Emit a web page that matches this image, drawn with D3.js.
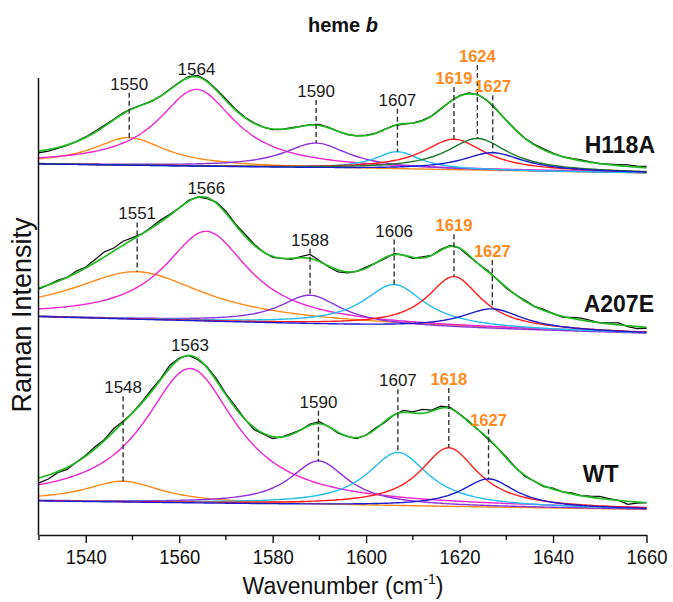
<!DOCTYPE html>
<html>
<head>
<meta charset="utf-8">
<script src="https://cdn.jsdelivr.net/npm/d3@7/dist/d3.min.js"></script>
<style>
  body { margin: 0; background: #fff; }
  text { font-family: "Liberation Sans", Arial, sans-serif; }
</style>
</head>
<body>
<div id="chart"></div>
<script>
(function(d3) {
  'use strict';

  // ---- data (intensity in arbitrary units, stacked offsets included) ----
  var xTicks = [1540, 1560, 1580, 1600, 1620, 1640, 1660];
  var xMinor = [1530, 1550, 1570, 1590, 1610, 1630, 1650];
  var measuredGrid = d3.range(1530, 1661, 2);

  var h118aBands = ['orange', 'magenta', 'violet', 'cyan', 'red', 'dkgreen', 'blue'];
  var h118aCenters = [1549.3, 1563.7, 1589.3, 1606.7, 1618.8, 1623.8, 1627.1];
  var h118aHeights = [27.7, 77, 25, 17.6, 31, 32, 18];
  var h118aWidths = [9.4, 10, 8.5, 6, 8, 8, 8];
  var h118aLabels = ['1550', '1564', '1590', '1607', '1619', '1624', '1627'];
  var h118aVinyl = [false, false, false, false, true, true, true];
  var h118aBaseline = [369.5, 360.5];
  var h118aResidual = [-1.5, -1.5, -1, -0.5, 0, 0.5, 1, 1, 0.5, 1, 0.5, 0, -0.5, 0, 0.5, 0.5,
    1, 1.5, 1, 1, 1.5, 1, 0.5, 0.5, 0, -0.5, 0, 0.5, 0, 0.5, 1, 0.5, 0, -0.5, 0, 0.5, 0, 0.5,
    0, -0.5, 0, 0.5, 0, 0.5, 0, 0.5, 1, 0.5, 0, -0.5, 0, 0.5, 0, 0.5, 1, 0.5, 0, 0.5, 1, 0.5,
    0, 0.5, 1, 1.5, 1, 1.5];

  var a207eBands = ['orange', 'magenta', 'violet', 'cyan', 'red', 'blue'];
  var a207eCenters = [1551, 1565.8, 1588, 1606, 1618.8, 1627];
  var a207eHeights = [47.7, 90, 29, 42, 51.6, 20.4];
  var a207eWidths = [17.5, 11, 8, 8, 7, 8];
  var a207eLabels = ['1551', '1566', '1588', '1606', '1619', '1627'];
  var a207eVinyl = [false, false, false, false, true, true];
  var a207eBaseline = [216.8, 200];
  var a207eResidual = [-1, 0, 1, 0, 2, 1, 3, 5, 3, 4, 2, 0, 1, 2, 1, 0, 1, 0, -1, 1, 2, 1, 2, 1,
    0, -1, 0, -1, 1, 4, 1, -1, -2, -1, 0, 1, 0, -1, 1, 0, -1, 1, 0, 1, 1, 0, -1, 0, 1, 0, -1, 0,
    1, 0, 1, 0, -1, 1, 2, 1, 0, 1, 2, -1, -2, -1];

  var wtBands = ['orange', 'magenta', 'violet', 'cyan', 'red', 'blue'];
  var wtCenters = [1548, 1562.3, 1589.8, 1606.8, 1617.7, 1626.2];
  var wtHeights = [21, 134.6, 44, 53.6, 59, 28.4];
  var wtWidths = [10, 12, 7.5, 8, 7.5, 7];
  var wtLabels = ['1548', '1563', '1590', '1607', '1618', '1627'];
  var wtVinyl = [false, false, false, false, true, true];
  var wtBaseline = [32.5, 24];
  var wtResidual = [-5, -4, -1, -2, 0, 1, 2, 1, 3, 1, 0, 1, 2, 1, 3, 1, 0, -1, 1, 2, 1, 2, 0, -2,
    -1, -2, 0, 1, 0, 1, 2, 0, -1, 0, -1, 0, 1, -1, 0, 2, 1, 4, 1, 2, 1, 0, 1, 0, -1, 0, 1, 0, -1,
    0, -1, 1, 0, 1, 0, 1, 2, 1, 0, -3, -1, 0];

  // ---- layout ----
  var width = 673;
  var height = 602;
  var left = 39, right = 646.5, top = 78, bottom = 535;

  var bandColor = {
    orange: '#ff8a1c', magenta: '#f024d2', violet: '#8a32dc', cyan: '#22bdec',
    red: '#ff1c1c', dkgreen: '#1d7a2c', blue: '#1c1cd0'
  };

  var panels = [
    { name: 'H118A', bands: h118aBands, centers: h118aCenters, heights: h118aHeights,
      widths: h118aWidths, labels: h118aLabels, vinyl: h118aVinyl, baseline: h118aBaseline,
      residual: h118aResidual, lift: [26.7, 8, 34, 25, 21, 39, 19.4], nameX: 655, nameY: 152.7 },
    { name: 'A207E', bands: a207eBands, centers: a207eCenters, heights: a207eHeights,
      widths: a207eWidths, labels: a207eLabels, vinyl: a207eVinyl, baseline: a207eBaseline,
      residual: a207eResidual, lift: [23.3, 9, 18.7, 24, 21, 24], nameX: 654, nameY: 311.7 },
    { name: 'WT', bands: wtBands, centers: wtCenters, heights: wtHeights,
      widths: wtWidths, labels: wtLabels, vinyl: wtVinyl, baseline: wtBaseline,
      residual: wtResidual, lift: [35, 10, 21.7, 33, 29, 18.4], nameX: 618.5, nameY: 481.7 }
  ];

  var x = d3.scaleLinear().domain([1530, 1660]).range([left, right]);
  var y = d3.scaleLinear().domain([-1.5, 455]).range([bottom, 78.5]);

  var svg = d3.select('#chart')
    .append('svg')
    .attr('width', width)
    .attr('height', height);

  var line = d3.line()
    .x(function(d) { return x(d[0]); })
    .y(function(d) { return y(d[1]); });

  function lorentz(v, c, h, w) {
    var t = (v - c) / w;
    return h / (1 + t * t);
  }

  var fine = d3.range(1530, 1660.01, 0.5);

  panels.forEach(function(p) {
    var base = d3.scaleLinear().domain([1530, 1660]).range(p.baseline);
    var fit = function(v) {
      var s = base(v);
      p.centers.forEach(function(c, i) { s += lorentz(v, c, p.heights[i], p.widths[i]); });
      return s;
    };
    var g = svg.append('g').attr('class', 'panel');

    // components
    p.centers.forEach(function(c, i) {
      g.append('path')
        .attr('d', line(fine.map(function(v) {
          return [v, base(v) + lorentz(v, c, p.heights[i], p.widths[i])];
        })))
        .attr('fill', 'none')
        .attr('stroke', bandColor[p.bands[i]])
        .attr('stroke-width', 1.4);
    });

    // measured spectrum
    g.append('path')
      .attr('d', line(measuredGrid.map(function(v, i) { return [v, fit(v) + p.residual[i]]; })))
      .attr('fill', 'none')
      .attr('stroke', '#111')
      .attr('stroke-width', 1.3);

    // fitted envelope
    g.append('path')
      .attr('d', line(fine.map(function(v) { return [v, fit(v)]; })))
      .attr('fill', 'none')
      .attr('stroke', '#1fbb1f')
      .attr('stroke-width', 1.7);

    // band markers
    p.centers.forEach(function(c, i) {
      var cy = y(fit(c)) - p.lift[i];
      if (i !== 1) {
        g.append('line')
          .attr('x1', x(c)).attr('x2', x(c))
          .attr('y1', cy + 9)
          .attr('y2', y(base(c) + p.heights[i]))
          .attr('stroke', '#333')
          .attr('stroke-width', 1.4)
          .attr('stroke-dasharray', '5,3');
      }
      g.append('text')
        .attr('x', x(c))
        .attr('y', cy + 6)
        .attr('text-anchor', 'middle')
        .attr('font-size', p.vinyl[i] ? 16.5 : 17)
        .attr('font-weight', p.vinyl[i] ? 'bold' : 'normal')
        .attr('fill', p.vinyl[i] ? '#ff8a1c' : '#1a1a1a')
        .text(p.labels[i]);
    });

    g.append('text')
      .attr('x', p.nameX)
      .attr('y', p.nameY)
      .attr('text-anchor', 'end')
      .attr('font-size', 23)
      .attr('font-weight', 'bold')
      .attr('fill', '#111')
      .text(p.name);
  });

  // axes
  var xAxis = svg.append('g')
    .attr('transform', 'translate(0,' + bottom + ')')
    .call(d3.axisBottom(x).tickValues(xTicks).tickSize(8).tickPadding(7).tickSizeOuter(0)
      .tickFormat(d3.format('d')));
  xAxis.select('.domain').attr('stroke', '#111').attr('stroke-width', 1.5);
  xAxis.selectAll('.tick line').attr('stroke', '#111').attr('stroke-width', 1.4);
  xAxis.selectAll('.tick text')
    .attr('font-size', 20)
    .attr('fill', '#111')
    .attr('textLength', 41)
    .attr('lengthAdjust', 'spacingAndGlyphs')
    .attr('font-family', '"Liberation Sans", Arial, sans-serif');

  svg.append('g').selectAll('line')
    .data(xMinor)
    .enter()
    .append('line')
    .attr('x1', function(d) { return x(d); })
    .attr('x2', function(d) { return x(d); })
    .attr('y1', bottom)
    .attr('y2', bottom + 5)
    .attr('stroke', '#111')
    .attr('stroke-width', 1.4);

  svg.append('line')
    .attr('x1', 38.5).attr('x2', 38.5)
    .attr('y1', top).attr('y2', bottom)
    .attr('stroke', '#111')
    .attr('stroke-width', 1.5);

  // titles
  var title = svg.append('text')
    .attr('x', 343)
    .attr('y', 31.5)
    .attr('text-anchor', 'middle')
    .attr('font-size', 20)
    .attr('font-weight', 'bold')
    .attr('fill', '#111');
  title.append('tspan').text('heme ');
  title.append('tspan').attr('font-style', 'italic').text('b');

  var xTitle = svg.append('text')
    .attr('x', 343)
    .attr('y', 594)
    .attr('text-anchor', 'middle')
    .attr('font-size', 23)
    .attr('fill', '#111');
  xTitle.append('tspan').text('Wavenumber (cm');
  xTitle.append('tspan').attr('font-size', 14).attr('dy', -10).text('-1');
  xTitle.append('tspan').attr('dy', 10).text(')');

  svg.append('text')
    .attr('transform', 'translate(31,315) rotate(-90)')
    .attr('text-anchor', 'middle')
    .attr('font-size', 27)
    .attr('fill', '#111')
    .text('Raman Intensity');

})(window.d3);
</script>
</body>
</html>
